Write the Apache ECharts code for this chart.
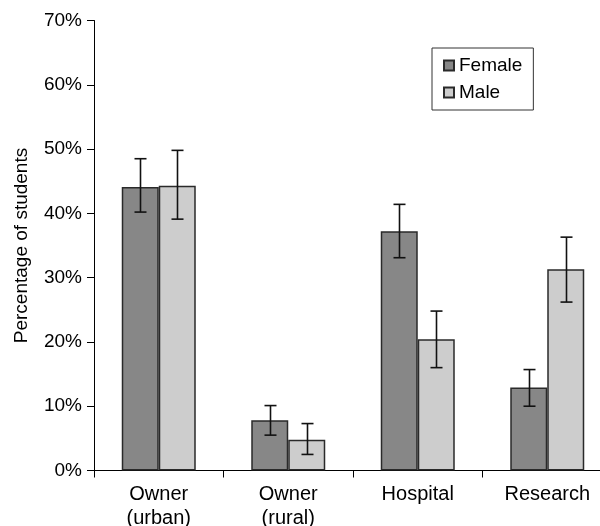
<!DOCTYPE html>
<html>
<head>
<meta charset="utf-8">
<script src="https://cdn.jsdelivr.net/npm/echarts@6/dist/echarts.min.js"></script>
<style>
  html, body { margin: 0; padding: 0; background: #fff; overflow: hidden; }
  /* the plot runs a little past the right edge of the window */
  #chart { width: 612px; height: 526px; }
</style>
</head>
<body>
<div id="chart"></div>
<script>
// Workplace categories on the x axis
const categories = ['Owner\n(urban)', 'Owner\n(rural)', 'Hospital', 'Research'];

// Percentage of students, by gender
const femaleValues = [44.1, 7.8, 37.2, 12.9];
const maleValues = [44.3, 4.8, 20.4, 31.3];

// Error bar ends (low, high) for each category
const femaleLow = [40.2, 5.5, 33.1, 10.0];
const femaleHigh = [48.5, 10.1, 41.4, 15.7];
const maleLow = [39.1, 2.5, 16.0, 26.2];
const maleHigh = [49.8, 7.3, 24.8, 36.3];

// Y axis ticks
const yTicks = [0, 10, 20, 30, 40, 50, 60, 70];

const FONT = 'Liberation Sans, Arial, sans-serif';
const BAR_W = 37;

function errorSeries(lows, highs, offset) {
  return {
    type: 'custom',
    silent: true,
    z: 5,
    data: categories.map((c, i) => [i, lows[i], highs[i]]),
    renderItem: function (params, api) {
      const lo = api.coord([api.value(0), api.value(1)]);
      const hi = api.coord([api.value(0), api.value(2)]);
      const x = Math.round(lo[0] + offset) + 0.5;
      const cap = 6;
      const style = { stroke: '#111', lineWidth: 1.6 };
      return {
        type: 'group',
        children: [
          { type: 'line', shape: { x1: x, y1: hi[1], x2: x, y2: lo[1] }, style: style },
          { type: 'line', shape: { x1: x - cap, y1: hi[1], x2: x + cap, y2: hi[1] }, style: style },
          { type: 'line', shape: { x1: x - cap, y1: lo[1], x2: x + cap, y2: lo[1] }, style: style }
        ]
      };
    }
  };
}

const chart = echarts.init(document.getElementById('chart'), null, { renderer: 'canvas' });

chart.setOption({
  animation: false,
  backgroundColor: '#fff',
  textStyle: { fontFamily: FONT, color: '#000' },
  grid: { left: 94, right: 0, top: 20.5, bottom: 55.5, containLabel: false, outerBoundsMode: 'none' },
  legend: {
    data: ['Female', 'Male'],
    orient: 'vertical',
    left: 432,
    top: 48,
    padding: [8, 11, 8, 11],
    itemWidth: 10,
    itemHeight: 10,
    itemGap: 8,
    icon: 'rect',
    borderColor: '#333',
    borderWidth: 1,
    textStyle: { fontFamily: FONT, fontSize: 19, color: '#000' }
  },
  xAxis: {
    type: 'category',
    data: categories,
    axisLine: { lineStyle: { color: '#000', width: 1 } },
    axisTick: { show: true, inside: false, length: 7, lineStyle: { color: '#000' } },
    axisLabel: { fontFamily: FONT, fontSize: 20, color: '#000', margin: 12, lineHeight: 24 },
    splitLine: { show: false }
  },
  yAxis: {
    type: 'value',
    min: yTicks[0],
    max: yTicks[yTicks.length - 1],
    interval: 10,
    name: 'Percentage of students',
    nameLocation: 'middle',
    nameGap: 63,
    nameTextStyle: { fontFamily: FONT, fontSize: 19, color: '#000' },
    axisLine: { show: true, lineStyle: { color: '#000', width: 1 } },
    axisTick: { show: true, inside: false, length: 7, lineStyle: { color: '#000' } },
    axisLabel: { fontFamily: FONT, fontSize: 19, color: '#000', margin: 12, formatter: '{value}%' },
    splitLine: { show: false }
  },
  series: [
    {
      name: 'Female',
      type: 'bar',
      data: femaleValues,
      barWidth: BAR_W,
      barGap: '0%',
      itemStyle: { color: '#878787', borderColor: '#2a2a2a', borderWidth: 1.5 }
    },
    {
      name: 'Male',
      type: 'bar',
      data: maleValues,
      barWidth: BAR_W,
      barGap: '0%',
      itemStyle: { color: '#cdcdcd', borderColor: '#2a2a2a', borderWidth: 1.5 }
    },
    errorSeries(femaleLow, femaleHigh, -BAR_W / 2),
    errorSeries(maleLow, maleHigh, BAR_W / 2)
  ]
});
</script>
</body>
</html>
